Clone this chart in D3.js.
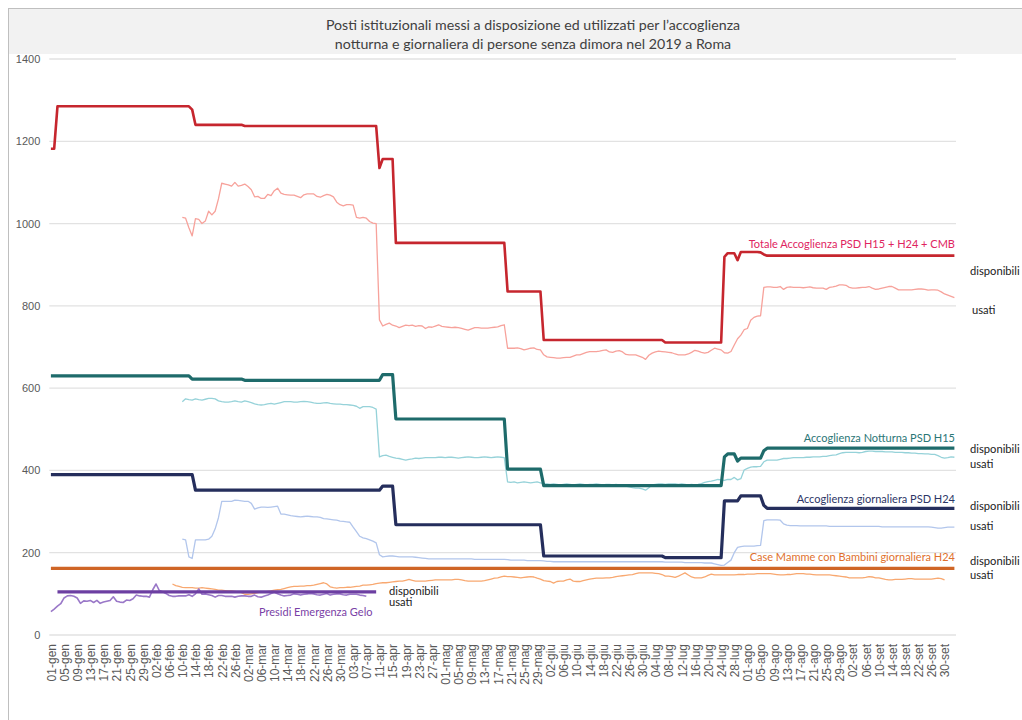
<!DOCTYPE html>
<html><head><meta charset="utf-8">
<script src="https://cdn.jsdelivr.net/npm/d3@7"></script>
<style>body{margin:0;background:#fff} svg{display:block}</style>
</head><body>
<svg id="c" width="1022" height="720"></svg>
<script>
// ---------- DATA ----------
const firstDay = "2019-01-01";
const lastDay = "2019-10-03";
const monthLabels = ["gen","feb","mar","apr","mag","giu","lug","ago","set","ott"];
const yTicks = [0,200,400,600,800,1000,1200,1400];
const xTickEveryDays = 4;

// "disponibili" series as runs: [value, number of consecutive days]
const totaleDisponibiliRuns = [[1182,2],[1285,41],[1277,1],[1240,15],[1237,41],[1135,1],[1157,4],[953,34],[835,11],[717,37],[711,18],[919,1],[928,3],[911,1],[931,6],[930,1],[925,1],[922,58]];
const notturnaDisponibiliRuns = [[630,43],[622,16],[619,42],[633,4],[525,34],[403,11],[363,55],[433,1],[440,3],[423,1],[430,7],[448,1],[454,58]];
const giornalieraDisponibiliRuns = [[390,44],[352,57],[362,4],[268,45],[192,37],[188,18],[326,5],[338,7],[315,1],[308,58]];
const mammeDisponibiliRuns = [[162,276]];
const geloDisponibiliRuns = [[null,2],[105,98],[null,176]];

// "usati" series: first day + daily values
const totaleUsatiStart = "2019-02-10";
const totaleUsati = [
1015,1013,990,970,1012,1010,1000,1006,1030,1021,
1030,1060,1098,1096,1094,1091,1100,1091,1093,1096,
1090,1082,1065,1066,1061,1061,1071,1068,1080,1086,
1074,1071,1070,1069,1069,1066,1063,1070,1072,1072,
1072,1066,1064,1068,1071,1069,1065,1052,1046,1043,
1046,1046,1045,1015,1013,1015,1013,1005,1001,1000,
766,751,755,758,753,751,747,750,753,752,
753,750,752,751,745,749,748,751,754,750,
749,748,747,748,747,745,743,741,744,747,
747,746,746,746,747,748,749,752,754,697,
697,697,698,696,693,695,697,698,694,693,
681,676,675,674,673,673,674,675,675,678,
681,681,684,687,689,689,689,690,692,693,
688,687,690,691,688,682,681,681,681,678,
675,670,680,685,688,690,689,688,687,686,
683,681,681,681,683,687,692,690,687,685,
687,692,697,695,693,686,685,689,705,720,
729,742,745,765,772,775,776,845,846,846,
845,845,847,840,845,846,845,845,845,844,
845,846,844,843,843,843,840,845,846,848,
851,851,850,845,843,843,844,845,845,847,
843,840,841,843,845,847,847,843,839,839,
839,839,839,840,841,841,840,838,839,839,
838,834,829,826,823,820];

const notturnaUsatiStart = "2019-02-10";
const notturnaUsati = [
567,574,572,571,574,572,571,573,575,575,
574,569,567,566,566,567,569,567,566,569,
567,565,562,560,559,560,562,563,561,563,
565,567,567,567,566,566,567,568,567,566,
564,563,563,564,565,563,562,561,561,560,
560,559,558,556,551,555,555,555,553,549,
433,436,437,434,432,430,429,427,425,427,
428,430,429,430,431,431,431,431,432,432,
431,432,432,431,430,431,432,433,432,431,
431,432,433,432,431,432,433,432,431,372,
371,372,370,371,372,371,370,371,372,370,
368,367,366,367,366,365,366,367,366,365,
366,367,366,365,366,366,367,366,365,366,
366,365,366,365,364,362,360,358,357,357,
355,352,358,365,366,367,367,366,367,367,
367,366,367,366,365,366,365,366,368,371,
373,374,376,378,377,376,378,378,383,377,
380,401,405,408,409,409,410,421,425,425,
425,425,427,429,429,430,431,431,431,431,
432,432,433,433,433,434,434,436,437,438,
441,443,444,444,444,444,443,444,446,447,
447,446,446,446,445,445,445,444,444,444,
443,443,442,442,441,441,440,440,439,439,
436,432,430,431,433,432];

const giornalieraUsatiStart = "2019-02-10";
const giornalieraUsati = [
233,231,190,186,231,231,231,231,233,240,
258,285,325,325,325,325,328,327,326,325,
325,320,306,309,311,311,310,311,312,313,
294,294,292,290,289,288,287,288,289,288,
287,287,286,283,282,281,280,279,277,276,
275,274,262,251,240,236,234,231,228,224,
195,190,191,192,192,191,190,190,190,190,
190,189,188,187,186,185,185,185,185,185,
185,185,185,185,185,185,185,185,185,184,
184,184,184,184,184,184,184,184,184,183,
182,182,182,182,182,181,181,181,181,181,
180,179,179,178,178,178,178,178,178,178,
178,178,178,178,178,178,178,178,178,178,
178,178,178,178,178,178,178,178,178,178,
178,178,178,178,178,178,178,177,177,177,
177,177,177,176,176,176,176,176,176,175,
175,175,173,171,169,170,176,182,200,213,
215,216,216,216,216,217,218,278,280,280,
280,280,279,270,267,266,266,266,265,265,
265,265,265,265,265,265,265,264,264,264,
264,264,264,264,264,264,264,264,264,264,
264,264,264,263,263,263,263,263,263,263,
263,263,263,263,263,263,263,263,262,261,
260,260,261,262,262,262];

const mammeUsatiStart = "2019-02-07";
const mammeUsati = [
124,120,118,
116,115,115,115,114,114,115,114,113,112,
111,109,109,108,107,107,106,105,103,99,
99,100,101,103,104,105,106,107,109,110,
111,113,115,117,118,118,119,119,120,120,
121,123,125,127,124,117,115,114,115,115,
116,116,117,118,119,121,121,122,123,125,
126,127,127,128,129,130,131,131,133,135,
133,131,131,131,131,132,133,134,134,134,
134,134,134,135,135,134,132,131,131,131,
131,131,132,134,136,138,139,141,143,142,
142,141,140,139,140,141,142,141,138,136,
132,131,130,126,130,131,131,134,136,131,
130,130,132,134,136,137,138,138,138,139,
139,140,142,143,144,145,146,147,149,151,
151,151,151,151,150,149,147,143,143,142,
140,143,147,151,146,141,139,139,139,141,
145,148,146,146,146,146,146,146,146,147,
147,147,148,148,148,149,149,149,149,149,
148,147,146,146,147,147,148,149,149,149,
148,148,147,146,146,146,146,146,145,144,
143,142,141,139,139,139,139,139,140,142,
141,139,139,137,135,134,134,135,135,135,
136,137,137,136,136,136,136,136,136,137,
138,137,134];

const geloUsatiStart = "2019-01-01";
const geloUsati = [
57,63,70,76,90,95,96,94,90,77,
83,82,84,79,84,77,80,82,84,93,
82,80,79,85,84,88,97,95,94,94,
92,110,124,108,105,101,96,94,94,95,
95,95,98,94,100,112,99,100,98,96,
92,96,96,94,94,94,92,94,95,95,
94,94,97,93,92,95,97,101,104,100,
97,95,96,97,100,99,97,99,100,101,
100,98,97,99,101,97,99,100,100,98,
97,99,99,99,97,96,94];

const titleLines = ["Posti istituzionali messi a disposizione ed utilizzati per l\u2019accoglienza",
                    "notturna e giornaliera di persone senza dimora nel 2019 a Roma"];

// ---------- BUILD ----------
const parse = d3.timeParse("%Y-%m-%d");
const days = d3.timeDay.range(parse(firstDay), d3.timeDay.offset(parse(lastDay), 1));
const idxOf = s => d3.timeDay.count(days[0], parse(s));
function fromRuns(runs){ const out=[]; runs.forEach(([v,n])=>{ for(let k=0;k<n;k++) out.push(v); }); return out.map((v,i)=>({i,v})); }
function fromDaily(start, vals){ const s = idxOf(start); return vals.map((v,k)=>({i:s+k, v})); }

const svg = d3.select("#c");
const x = d3.scalePoint().domain(d3.range(days.length)).range([50.9, 954.4]);
const y = d3.scaleLinear().domain([0,1400]).range([635,59]);
const gridX0 = 49.3, gridX1 = 956;

// frame + title band (frame runs past the right edge of the picture)
svg.append("rect").attr("x",8.5).attr("y",8.5).attr("width",1050).attr("height",720).attr("fill","#fff").attr("stroke","#bfbfbf");
svg.append("rect").attr("x",9).attr("y",9).attr("width",1050).attr("height",45).attr("fill","#f2f2f2");
svg.append("g").selectAll("text").data(titleLines).join("text")
  .attr("x",533).attr("y",(d,i)=>30+i*19).attr("text-anchor","middle")
  .attr("font-family","Lato, 'Open Sans', sans-serif").attr("font-size",14.2).attr("fill","#404040").text(d=>d);

// grid
svg.append("g").selectAll("line").data(yTicks).join("line")
  .attr("x1",gridX0).attr("x2",gridX1).attr("y1",d=>y(d)).attr("y2",d=>y(d))
  .attr("stroke","#e2e2e2").attr("stroke-width",1.3);

// y axis labels
const yAxis = svg.append("g").attr("transform",`translate(${gridX0},0)`)
  .call(d3.axisLeft(y).tickValues(yTicks).tickSize(0).tickPadding(9).tickFormat(d3.format("d")));
yAxis.select(".domain").remove();
yAxis.selectAll("text").attr("font-family","'Liberation Sans', Arial, sans-serif").attr("font-size",11).attr("fill","#595959");

// x axis labels
const fmtDay = d3.timeFormat("%d");
const xAxis = svg.append("g").attr("transform","translate(0,635)")
  .call(d3.axisBottom(x).tickValues(d3.range(0, days.length, xTickEveryDays)).tickSize(0)
        .tickFormat(i => fmtDay(days[i]) + "-" + monthLabels[days[i].getMonth()]));
xAxis.select(".domain").remove();
xAxis.selectAll("text").attr("transform","rotate(-90)").attr("x",-9).attr("y",0).attr("dy","0.36em")
  .style("text-anchor","end").attr("font-family","'Liberation Sans', Arial, sans-serif").attr("font-size",12).attr("fill","#595959");

// lines
const line = d3.line().defined(d=>d.v!=null).x(d=>x(d.i)).y(d=>y(d.v));
const series = [
  {data: fromDaily(totaleUsatiStart, totaleUsati), color:"#f7a29b", w:1.3},
  {data: fromDaily(notturnaUsatiStart, notturnaUsati), color:"#96d2d9", w:1.3},
  {data: fromDaily(giornalieraUsatiStart, giornalieraUsati), color:"#b2c6ec", w:1.3},
  {data: fromDaily(mammeUsatiStart, mammeUsati), color:"#f8a870", w:1.3},
  {data: fromDaily(geloUsatiStart, geloUsati), color:"#9a78c8", w:1.6},
  {data: fromRuns(mammeDisponibiliRuns), color:"#cf6526", w:3.2},
  {data: fromRuns(geloDisponibiliRuns), color:"#6c3fa2", w:3.2},
  {data: fromRuns(giornalieraDisponibiliRuns), color:"#252e5c", w:3.2},
  {data: fromRuns(notturnaDisponibiliRuns), color:"#1e6b6b", w:3.2},
  {data: fromRuns(totaleDisponibiliRuns), color:"#c6262e", w:2.6}
];
svg.append("g").selectAll("path").data(series).join("path")
  .attr("d",d=>line(d.data)).attr("fill","none").attr("stroke",d=>d.color)
  .attr("stroke-width",d=>d.w).attr("stroke-linejoin","round");

// labels
const lab = svg.append("g").attr("font-family","Lato, 'Open Sans', sans-serif").attr("font-size",11);
const seriesLabels = [
  {t:"Totale Accoglienza PSD H15 + H24 + CMB", x:955, y:248, c:"#e0245f", a:"end"},
  {t:"Accoglienza Notturna PSD H15", x:955, y:442, c:"#2a7676", a:"end"},
  {t:"Accoglienza giornaliera PSD H24", x:955, y:503, c:"#2c3566", a:"end"},
  {t:"Case Mamme con Bambini giornaliera H24", x:955, y:561, c:"#e0702c", a:"end"},
  {t:"Presidi Emergenza Gelo", x:259, y:616, c:"#7a3fa6", a:"start"}
];
lab.selectAll("text.s").data(seriesLabels).join("text").attr("class","s")
  .attr("x",d=>d.x).attr("y",d=>d.y).attr("text-anchor",d=>d.a).attr("fill",d=>d.c).text(d=>d.t);
const sideLabels = [
  {t:"disponibili", x:970, y:275},{t:"usati", x:972, y:314},
  {t:"disponibili", x:970, y:453},{t:"usati", x:970, y:468},
  {t:"disponibili", x:970, y:510},{t:"usati", x:970, y:530},
  {t:"disponibili", x:970, y:565},{t:"usati", x:970, y:579},
  {t:"disponibili", x:389, y:595},{t:"usati", x:389, y:606}
];
lab.selectAll("text.d").data(sideLabels).join("text").attr("class","d")
  .attr("x",d=>d.x).attr("y",d=>d.y).attr("fill","#222").attr("font-size",11.2).text(d=>d.t);
</script>
</body></html>
